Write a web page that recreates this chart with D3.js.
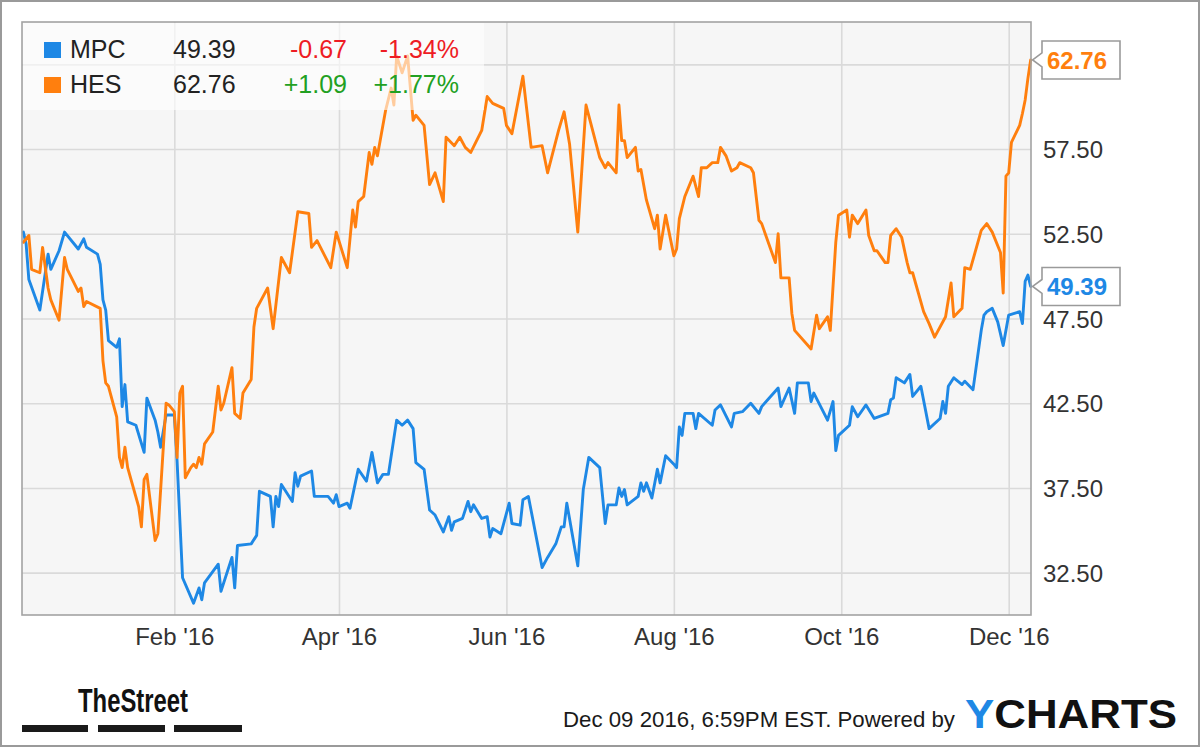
<!DOCTYPE html>
<html><head><meta charset="utf-8">
<script src="https://cdn.jsdelivr.net/npm/d3@7"></script>
<style>
html,body{margin:0;padding:0;background:#fff;}
svg{display:block;font-family:"Liberation Sans",Arial,Helvetica,sans-serif;}
</style></head>
<body><svg id="chart" width="1200" height="747"></svg>
<script>
const seriesNames = ["MPC", "HES"];
const lastValues = [49.39, 62.76];
const changes = ["-0.67", "+1.09"];
const changePcts = ["-1.34%", "+1.77%"];
const yTicks = [32.5, 37.5, 42.5, 47.5, 52.5, 57.5];
const yGrid = [32.5, 37.5, 42.5, 47.5, 52.5, 57.5, 62.5];
const xTickDates = ["2016-02-01", "2016-04-01", "2016-06-01", "2016-08-01", "2016-10-01", "2016-12-01"];

const mpcDates = ["2015-12-08","2015-12-09","2015-12-10","2015-12-14","2015-12-17","2015-12-18","2015-12-21","2015-12-23","2015-12-28","2015-12-30","2015-12-31",
"2016-01-04","2016-01-05","2016-01-06","2016-01-07","2016-01-08","2016-01-11","2016-01-12","2016-01-13","2016-01-14","2016-01-15","2016-01-18","2016-01-21","2016-01-22","2016-01-25","2016-01-26","2016-01-27","2016-01-29",
"2016-02-01","2016-02-02","2016-02-04","2016-02-08","2016-02-10","2016-02-11","2016-02-12","2016-02-17","2016-02-18","2016-02-22","2016-02-23","2016-02-24","2016-02-29",
"2016-03-02","2016-03-03","2016-03-07","2016-03-08","2016-03-09","2016-03-10","2016-03-11","2016-03-15","2016-03-16","2016-03-17","2016-03-18","2016-03-22","2016-03-23","2016-03-28","2016-03-30","2016-03-31",
"2016-04-01","2016-04-04","2016-04-05","2016-04-08","2016-04-11","2016-04-13","2016-04-15","2016-04-17","2016-04-19","2016-04-22","2016-04-24","2016-04-26","2016-04-28","2016-04-29",
"2016-05-02","2016-05-04","2016-05-06","2016-05-09","2016-05-11","2016-05-12","2016-05-13","2016-05-16","2016-05-18","2016-05-19","2016-05-20","2016-05-23","2016-05-25","2016-05-26","2016-05-27","2016-05-30",
"2016-06-02","2016-06-03","2016-06-06","2016-06-07","2016-06-09","2016-06-14","2016-06-16","2016-06-19","2016-06-21","2016-06-22","2016-06-23","2016-06-27","2016-06-29",
"2016-07-01","2016-07-05","2016-07-07","2016-07-08","2016-07-11","2016-07-12","2016-07-13","2016-07-14","2016-07-15","2016-07-19","2016-07-20","2016-07-21","2016-07-22","2016-07-24","2016-07-26","2016-07-27","2016-07-29",
"2016-08-01","2016-08-02","2016-08-03","2016-08-04","2016-08-05","2016-08-08","2016-08-09","2016-08-10","2016-08-15","2016-08-16","2016-08-18","2016-08-22","2016-08-23","2016-08-26","2016-08-29",
"2016-09-01","2016-09-02","2016-09-08","2016-09-09","2016-09-12","2016-09-14","2016-09-15","2016-09-19","2016-09-20","2016-09-21","2016-09-26","2016-09-28","2016-09-29","2016-09-30",
"2016-10-04","2016-10-05","2016-10-07","2016-10-10","2016-10-13","2016-10-18","2016-10-19","2016-10-20","2016-10-21","2016-10-24","2016-10-26","2016-10-27","2016-10-30",
"2016-11-02","2016-11-06","2016-11-07","2016-11-08","2016-11-09","2016-11-11","2016-11-14","2016-11-15","2016-11-18","2016-11-21","2016-11-22","2016-11-23","2016-11-25","2016-11-27","2016-11-29",
"2016-12-01","2016-12-05","2016-12-06","2016-12-07","2016-12-08","2016-12-09"];
const mpcValues = [52.6,51.9,49.8,48.0,51.3,50.4,51.5,52.6,51.6,52.2,51.7,
51.3,50.7,48.6,48.0,46.2,45.8,46.3,42.3,43.6,41.4,41.2,39.6,42.8,41.5,40.8,39.9,41.8,
41.8,39.1,32.2,30.7,31.6,30.9,31.9,33.0,31.4,33.4,31.6,34.1,34.2,
34.7,37.3,37.0,35.2,37.0,36.4,37.7,36.7,38.4,37.6,38.2,38.5,37.0,37.0,36.6,37.1,
36.4,36.6,36.3,38.6,37.9,39.6,37.8,38.3,38.3,41.5,41.2,41.5,41.0,39.0,
38.6,36.2,35.9,34.9,35.8,35.0,35.5,35.7,36.7,36.1,36.5,35.7,35.8,34.6,35.1,34.8,
36.6,35.4,35.3,36.8,37.0,32.8,33.4,34.2,35.2,35.2,36.6,32.9,37.4,
39.3,38.7,35.4,36.5,36.5,37.5,37.0,37.4,36.5,37.0,37.8,37.3,37.8,36.9,38.6,37.8,39.4,
38.9,38.7,41.1,40.6,41.9,41.9,41.0,41.9,41.2,42.1,42.4,41.1,41.9,42.0,42.5,
41.9,42.3,43.4,42.3,43.4,41.9,43.7,43.7,42.6,43.1,41.5,42.6,39.7,40.6,
41.2,42.3,41.7,42.4,41.6,41.9,42.7,42.8,44.0,43.7,44.2,42.9,43.5,
41.0,41.6,42.6,41.9,43.5,44.0,43.6,43.8,43.3,46.8,47.7,47.9,48.1,47.3,45.9,
47.7,47.9,47.2,49.7,50.06,49.39];

const hesDates = ["2015-12-08","2015-12-10","2015-12-11","2015-12-14","2015-12-15","2015-12-17","2015-12-18","2015-12-21","2015-12-23","2015-12-24","2015-12-28","2015-12-29","2015-12-30","2015-12-31",
"2016-01-05","2016-01-06","2016-01-07","2016-01-08","2016-01-11","2016-01-12","2016-01-13","2016-01-14","2016-01-15","2016-01-19","2016-01-20","2016-01-21","2016-01-22","2016-01-25","2016-01-26","2016-01-29","2016-01-30",
"2016-02-01","2016-02-02","2016-02-03","2016-02-04","2016-02-05","2016-02-07","2016-02-08","2016-02-09","2016-02-10","2016-02-11","2016-02-12","2016-02-15","2016-02-17","2016-02-18","2016-02-19","2016-02-22","2016-02-23","2016-02-25","2016-02-26","2016-02-29",
"2016-03-01","2016-03-02","2016-03-06","2016-03-08","2016-03-11","2016-03-14","2016-03-17","2016-03-21","2016-03-22","2016-03-24","2016-03-29","2016-03-31",
"2016-04-04","2016-04-06","2016-04-07","2016-04-08","2016-04-10","2016-04-12","2016-04-13","2016-04-14","2016-04-15","2016-04-18","2016-04-20","2016-04-21","2016-04-22","2016-04-24","2016-04-26","2016-04-28","2016-04-29",
"2016-05-02","2016-05-04","2016-05-06","2016-05-09","2016-05-10","2016-05-13","2016-05-15","2016-05-17","2016-05-19","2016-05-23","2016-05-25","2016-05-27","2016-05-31",
"2016-06-01","2016-06-03","2016-06-07","2016-06-10","2016-06-14","2016-06-16","2016-06-20","2016-06-22","2016-06-24","2016-06-27","2016-06-30",
"2016-07-05","2016-07-07","2016-07-08","2016-07-11","2016-07-12","2016-07-13","2016-07-14","2016-07-15","2016-07-18","2016-07-19","2016-07-20","2016-07-22","2016-07-25","2016-07-26","2016-07-27","2016-07-29",
"2016-08-01","2016-08-02","2016-08-03","2016-08-05","2016-08-08","2016-08-10","2016-08-11","2016-08-13","2016-08-15","2016-08-17","2016-08-18","2016-08-20","2016-08-22","2016-08-24","2016-08-25","2016-08-29","2016-08-30",
"2016-09-01","2016-09-02","2016-09-07","2016-09-08","2016-09-09","2016-09-12","2016-09-13","2016-09-14","2016-09-20","2016-09-22","2016-09-23","2016-09-26","2016-09-27","2016-09-29","2016-09-30",
"2016-10-03","2016-10-04","2016-10-05","2016-10-07","2016-10-10","2016-10-11","2016-10-13","2016-10-14","2016-10-17","2016-10-18","2016-10-19","2016-10-21","2016-10-23","2016-10-25","2016-10-26","2016-10-27","2016-10-31",
"2016-11-02","2016-11-04","2016-11-08","2016-11-10","2016-11-11","2016-11-14","2016-11-15","2016-11-17","2016-11-21","2016-11-23","2016-11-25","2016-11-28","2016-11-29","2016-11-30",
"2016-12-01","2016-12-02","2016-12-05","2016-12-06","2016-12-07","2016-12-08","2016-12-09"];
const hesValues = [52.0,52.4,50.4,50.2,51.7,49.3,48.6,47.4,51.1,50.4,49.1,49.3,48.2,48.5,
48.1,45.0,43.7,43.5,41.7,39.3,38.7,39.9,38.7,36.4,35.2,38.0,38.3,34.4,34.8,42.5,42.4,
42.0,39.3,43.1,43.5,38.1,38.7,38.9,38.7,39.3,38.9,40.1,40.8,43.5,42.1,42.5,44.6,41.9,41.6,43.1,43.9,
47.0,48.1,49.3,46.9,51.1,50.2,53.8,53.7,51.7,52.1,50.5,52.6,
50.5,53.9,52.9,54.4,54.7,57.3,56.6,57.6,57.1,59.8,61.1,60.1,63.0,62.0,63.0,59.2,59.5,
58.9,55.4,56.1,54.4,58.2,57.7,58.2,57.6,57.3,58.6,60.6,60.2,59.9,
58.9,58.4,61.8,57.6,57.7,56.1,58.6,59.7,57.8,52.6,60.1,
57.0,56.4,56.7,56.1,60.1,58.0,58.0,57.0,57.6,56.2,56.3,54.5,52.8,53.6,51.6,53.6,
51.2,51.6,53.4,54.7,55.9,54.7,56.4,56.4,56.7,56.7,57.6,57.1,56.2,56.4,56.7,56.4,56.1,
53.3,53.1,50.8,52.5,49.9,49.9,47.8,46.8,45.7,47.7,46.9,47.6,46.8,52.0,53.6,
53.9,52.3,53.6,53.1,53.9,52.4,51.5,51.5,50.8,50.8,52.4,52.8,52.3,50.8,50.2,50.2,47.9,
47.2,46.4,47.6,49.6,47.6,48.1,50.5,50.4,52.7,53.1,52.6,51.4,49.0,55.9,
56.1,57.9,58.9,59.6,60.4,61.67,62.76];

const colors = ["#1e88e5", "#ff7f0e"];
const FONT = '"Liberation Sans", Arial, Helvetica, sans-serif';

const parse = d3.timeParse("%Y-%m-%d");
const mpc = mpcDates.map((d, i) => ({date: parse(d), value: mpcValues[i]}));
const hes = hesDates.map((d, i) => ({date: parse(d), value: hesValues[i]}));
const series = [mpc, hes];

const svg = d3.select("#chart");
const L = 22, T = 22, R = 1031, B = 615;

const x = d3.scaleTime()
  .domain([new Date(2015, 11, 7, 12), new Date(2016, 11, 9, 3)])
  .range([L, R]);
const y = d3.scaleLinear().domain([30, 65]).range([B, T]);

// outer frame
svg.append("rect").attr("x", 1).attr("y", 1).attr("width", 1198).attr("height", 745)
  .attr("fill", "#fff").attr("stroke", "#9a9a9a").attr("stroke-width", 2);

// plot background
svg.append("rect").attr("x", L).attr("y", T).attr("width", R - L).attr("height", B - T)
  .attr("fill", "#f6f6f6");

// gridlines via axes
const gy = svg.append("g").attr("transform", `translate(${L},0)`)
  .call(d3.axisLeft(y).tickValues(yGrid).tickSize(-(R - L)).tickFormat(""));
gy.select(".domain").remove();
gy.selectAll("line").attr("stroke", "#dadada").attr("stroke-width", 1.6);

const xt = xTickDates.map(parse);
const gx = svg.append("g").attr("transform", `translate(0,${B})`)
  .call(d3.axisBottom(x).tickValues(xt).tickSize(-(B - T)).tickFormat(""));
gx.select(".domain").remove();
gx.selectAll("line").attr("stroke", "#dadada").attr("stroke-width", 1.6);

// lines
const line = d3.line().x(d => x(d.date)).y(d => y(d.value));
series.forEach((s, i) => {
  svg.append("path").datum(s).attr("d", line)
    .attr("fill", "none").attr("stroke", colors[i]).attr("stroke-width", 2.9)
    .attr("stroke-linejoin", "round").attr("stroke-linecap", "round");
});

// plot border
svg.append("rect").attr("x", L).attr("y", T).attr("width", R - L).attr("height", B - T)
  .attr("fill", "none").attr("stroke", "#a3a3a3").attr("stroke-width", 1.6);

// right y axis labels
const ay = svg.append("g").attr("transform", `translate(${R},0)`)
  .call(d3.axisRight(y).tickValues(yTicks).tickSize(0).tickPadding(12).tickFormat(d3.format(".2f")));
ay.select(".domain").remove();
ay.selectAll("text").attr("font-family", FONT).attr("font-size", 24).attr("fill", "#333")
  .attr("dy", "0.36em");

// bottom x axis labels
const ax = svg.append("g").attr("transform", `translate(0,${B})`)
  .call(d3.axisBottom(x).tickValues(xt).tickSize(0).tickPadding(13).tickFormat(d3.timeFormat("%b '%y")));
ax.select(".domain").remove();
ax.selectAll("text").attr("font-family", FONT).attr("font-size", 24).attr("fill", "#333");

// legend
svg.append("rect").attr("x", L + 1).attr("y", T + 1).attr("width", 461).attr("height", 87)
  .attr("fill", "#ffffff").attr("fill-opacity", 0.6);
const rowY = [58, 93];
seriesNames.forEach((name, i) => {
  const g = svg.append("g").attr("font-family", FONT).attr("font-size", 25);
  g.append("rect").attr("x", 44).attr("y", rowY[i] - 16).attr("width", 17).attr("height", 16)
    .attr("fill", colors[i]);
  g.append("text").attr("x", 70).attr("y", rowY[i]).attr("fill", "#222").text(name);
  g.append("text").attr("x", 173).attr("y", rowY[i]).attr("fill", "#222").text(lastValues[i].toFixed(2));
  const cc = changes[i].startsWith("-") ? "#ee1c24" : "#22a022";
  g.append("text").attr("x", 347).attr("y", rowY[i]).attr("text-anchor", "end").attr("fill", cc).text(changes[i]);
  g.append("text").attr("x", 459).attr("y", rowY[i]).attr("text-anchor", "end").attr("fill", cc).text(changePcts[i]);
});

// last value flags
series.forEach((s, i) => {
  const last = s[s.length - 1];
  const yc = y(last.value);
  const ax0 = x(last.date) + 2, bx = 1042, bw = 78, bh = 38;
  const p = d3.path();
  p.moveTo(ax0, yc);
  p.lineTo(bx, yc - 7);
  p.lineTo(bx, yc - bh / 2);
  p.lineTo(bx + bw, yc - bh / 2);
  p.lineTo(bx + bw, yc + bh / 2);
  p.lineTo(bx, yc + bh / 2);
  p.lineTo(bx, yc + 7);
  p.closePath();
  svg.append("path").attr("d", p.toString()).attr("fill", "#fff")
    .attr("stroke", "#9a9a9a").attr("stroke-width", 1.6);
  svg.append("text").attr("x", bx + 5).attr("y", yc + 9)
    .attr("font-family", FONT).attr("font-size", 24).attr("font-weight", "bold")
    .attr("fill", colors[i]).text(last.value.toFixed(2));
});

// footer: TheStreet
svg.append("text").attr("x", 78).attr("y", 712).attr("font-family", FONT)
  .attr("font-size", 33).attr("font-weight", "bold").attr("fill", "#111")
  .attr("textLength", 110).attr("lengthAdjust", "spacingAndGlyphs").text("TheStreet");
[[22, 66], [98, 67], [174, 68]].forEach(b => {
  svg.append("rect").attr("x", b[0]).attr("y", 725).attr("width", b[1]).attr("height", 7).attr("fill", "#1a1a1a");
});

svg.append("text").attr("x", 563).attr("y", 727).attr("font-family", FONT)
  .attr("font-size", 22).attr("fill", "#1a1a1a")
  .attr("textLength", 392).attr("lengthAdjust", "spacingAndGlyphs")
  .text("Dec 09 2016, 6:59PM EST.  Powered by");

const yc = svg.append("text").attr("x", 965).attr("y", 728).attr("font-family", FONT)
  .attr("font-size", 40).attr("font-weight", "bold")
  .attr("textLength", 212).attr("lengthAdjust", "spacingAndGlyphs");
yc.append("tspan").attr("fill", "#1e88e5").text("Y");
yc.append("tspan").attr("fill", "#111").text("CHARTS");
</script></body></html>
